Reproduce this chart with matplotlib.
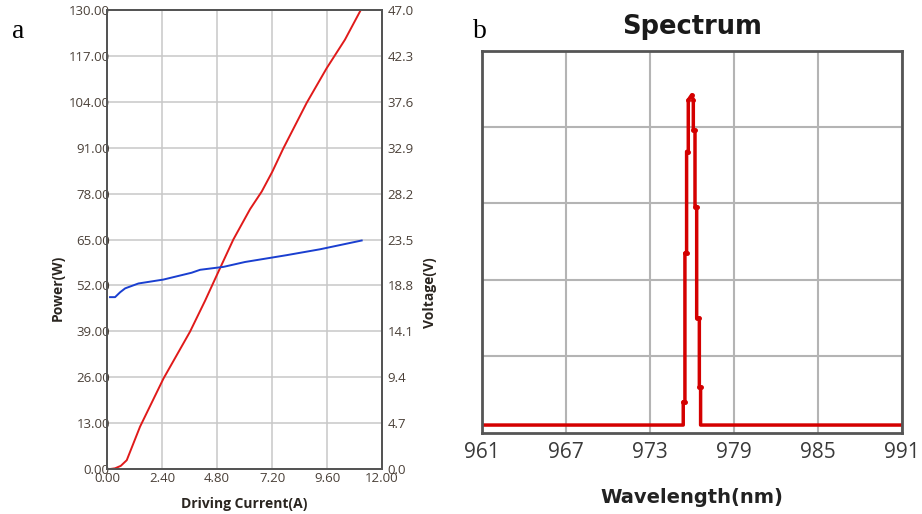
import matplotlib
matplotlib.use('Agg')
import matplotlib.pyplot as plt

# (a) power / voltage vs driving current
current_p = [0.13, 0.35, 0.60, 0.86, 1.44, 2.46, 3.62, 4.28, 4.86, 5.51, 6.24, 6.75, 7.21,
             7.69, 8.71, 9.58, 10.38, 11.07]
power_w = [0.0, 0.2, 0.9, 2.5, 12.0, 25.6, 38.9, 47.7, 55.9, 65.0, 73.6, 78.6, 84.2,
           90.8, 103.7, 113.5, 121.6, 130.0]
current_v = [0.13, 0.35, 0.57, 0.79, 1.37, 2.46, 3.69, 4.06, 5.08, 6.02, 7.84, 9.29, 11.11]
voltage_v = [17.6, 17.6, 18.1, 18.5, 19.0, 19.4, 20.1, 20.4, 20.7, 21.2, 21.9, 22.5, 23.4]
current_ticks = [0.0, 2.4, 4.8, 7.2, 9.6, 12.0]
power_ticks = [0, 13, 26, 39, 52, 65, 78, 91, 104, 117, 130]
voltage_ticks = [0.0, 4.7, 9.4, 14.1, 18.8, 23.5, 28.2, 32.9, 37.6, 42.3, 47.0]

# (b) spectrum
wavelength_nm = [961.0, 975.40, 975.40, 975.52, 975.52, 975.64, 975.64, 975.76, 975.76, 976.0,
                 976.12, 976.12, 976.24, 976.24, 976.36, 976.36, 976.55, 976.55, 976.64, 976.64, 991.0]
intensity = [0.02, 0.02, 0.081, 0.081, 0.47, 0.47, 0.736, 0.736, 0.871, 0.884,
             0.871, 0.792, 0.792, 0.592, 0.592, 0.30, 0.30, 0.12, 0.12, 0.02, 0.02]
wl_ticks = [961, 967, 973, 979, 985, 991]

tick_font = 'Open Sans'
txt = '#4a4038'
lab = '#2a2520'

fig = plt.figure(figsize=(9.22, 5.14), dpi=100)

ax1 = fig.add_axes([0.1161, 0.0875, 0.2983, 0.893])
ax1.plot(current_p, power_w, color='#e01a1a', lw=1.4, zorder=3)
ax1.set_xlim(0, 12)
ax1.set_ylim(0, 130)
ax1.set_xticks(current_ticks)
ax1.set_xticklabels([f'{t:.2f}' for t in current_ticks], family=tick_font, size=9.5, color=txt)
ax1.set_yticks(power_ticks)
ax1.set_yticklabels([f'{t:.2f}' for t in power_ticks], family=tick_font, size=9.5, color=txt)
ax1.tick_params(axis='x', length=0, pad=2)
ax1.tick_params(axis='y', length=0, pad=-2)
ax1.grid(True, color='#c8c8c8', lw=1.1)
ax1.set_axisbelow(True)
for s in ax1.spines.values():
    s.set_color('#555555')
    s.set_linewidth(1.4)
ax1.set_xlabel('Driving Current(A)', family=tick_font, weight='bold', size=10, color=lab)
ax1.xaxis.set_label_coords(0.5, -0.062)
ax1.set_ylabel('Power(W)', family=tick_font, weight='bold', size=10, color=lab)
ax1.yaxis.set_label_coords(-0.152, 0.395)

ax2 = ax1.twinx()
ax2.plot(current_v, voltage_v, color='#1a3fd0', lw=1.4)
ax2.set_ylim(0, 47)
ax2.set_yticks(voltage_ticks)
ax2.set_yticklabels([f'{t:.1f}' for t in voltage_ticks], family=tick_font, size=9.5, color=txt)
ax2.tick_params(axis='y', length=0, pad=4)
for s in ax2.spines.values():
    s.set_color('#555555')
    s.set_linewidth(1.4)
ax2.set_ylabel('Voltage(V)', family=tick_font, weight='bold', size=10, color=lab)
ax2.yaxis.set_label_coords(1.149, 0.385)

ax3 = fig.add_axes([0.5224, 0.1582, 0.4555, 0.7432])
ax3.plot(wavelength_nm, intensity, color='#d40000', lw=2.5, marker='o', ms=2.5,
         markevery=list(range(2, len(intensity) - 2)))
ax3.set_xlim(961, 991)
ax3.set_ylim(0, 1)
ax3.set_xticks(wl_ticks)
ax3.set_xticklabels([str(t) for t in wl_ticks], family=tick_font, size=15, color='#3a3a3a')
ax3.set_yticks([0.2, 0.4, 0.6, 0.8])
ax3.set_yticklabels([])
ax3.tick_params(length=0)
ax3.tick_params(axis='x', pad=7)
ax3.grid(True, color='#b4b4b4', lw=1.5)
ax3.set_axisbelow(True)
for s in ax3.spines.values():
    s.set_color('#555555')
    s.set_linewidth(2)
ax3.set_xlabel('Wavelength(nm)', family='DejaVu Sans', weight='bold', size=14, color='#222222')
ax3.xaxis.set_label_coords(0.5, -0.145)
ax3.set_title('Spectrum', family='DejaVu Sans', weight='bold', size=18.5, color='#1a1a1a', pad=12)

fig.text(0.013, 0.926, 'a', family='Liberation Serif', size=20, va='baseline')
fig.text(0.513, 0.926, 'b', family='Liberation Serif', size=20, va='baseline')

fig.savefig('out.png', dpi=100)
